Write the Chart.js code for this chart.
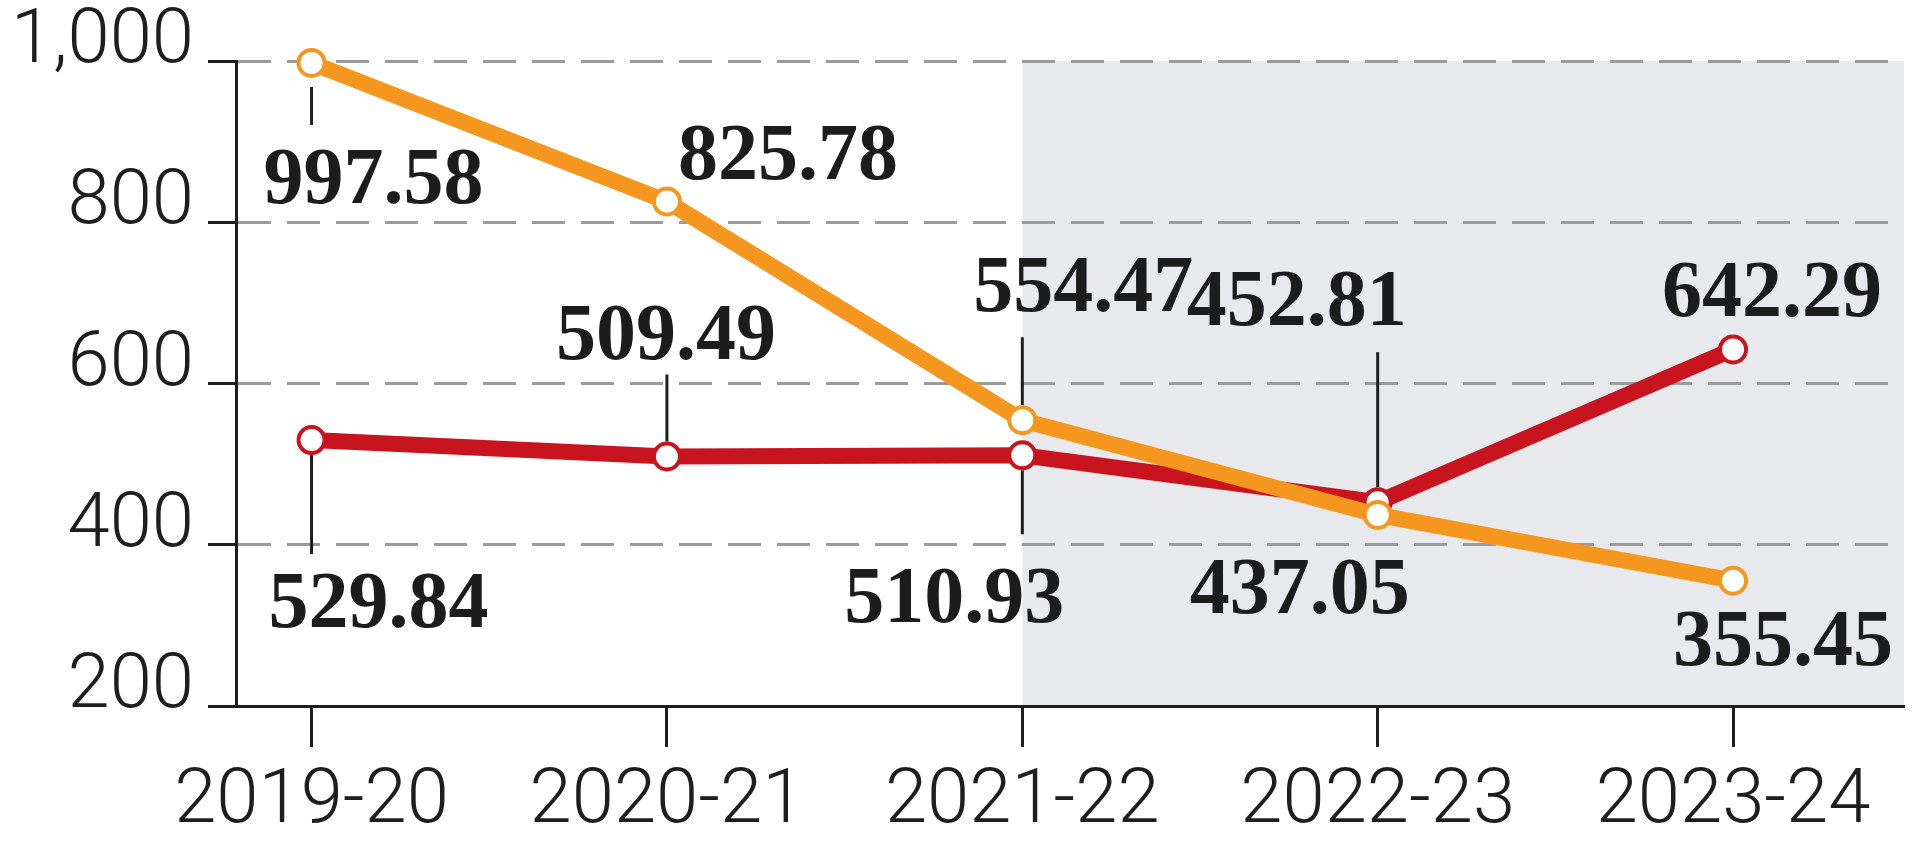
<!DOCTYPE html>
<html>
<head>
<meta charset="utf-8">
<script src="https://cdn.jsdelivr.net/npm/chart.js@4/dist/chart.umd.min.js"></script>
<style>
  html, body { margin: 0; padding: 0; background: #ffffff; }
  #wrap { width: 1921px; height: 843px; position: relative; }
</style>
</head>
<body>
<div id="wrap"><canvas id="c" width="1921" height="843"></canvas></div>
<script>
// ---- Data ----
const categories = ['2019-20', '2020-21', '2021-22', '2022-23', '2023-24'];
const orangeValues = [997.58, 825.78, 554.47, 437.05, 355.45];
const redValues = [529.84, 509.49, 510.93, 452.81, 642.29];
const yTickValues = [200, 400, 600, 800, 1000];
const shadeFromCategory = '2021-22';

// ---- Label placement (pixel offsets from each point; alphabetic baseline) ----
const orangePlacement = [
  { dx: 62, dy: 140, lead: [24, 62] },
  { dx: 121, dy: -22 },
  { dx: 61, dy: -109, lead: [-83, -15] },
  { dx: -78, dy: 98 },
  { dx: 50, dy: 84 }
];
const redPlacement = [
  { dx: 67, dy: 187, lead: [15, 114] },
  { dx: -1, dy: -97, lead: [-82, -15] },
  { dx: -68, dy: 167, lead: [15, 79] },
  { dx: -81, dy: -177, lead: [-150, -15] },
  { dx: 39, dy: -33 }
];

const ORANGE = '#f5971f';
const RED = '#c8141e';

const toPoints = vals => vals.map((v, i) => ({ x: i, y: v }));

const shadePlugin = {
  id: 'shade',
  beforeDraw(chart) {
    const { ctx, chartArea, scales: { x, y } } = chart;
    const x0 = x.getPixelForValue(categories.indexOf(shadeFromCategory));
    const y0 = y.getPixelForValue(y.max);
    const y1 = y.getPixelForValue(y.min);
    ctx.save();
    ctx.fillStyle = '#e8e9ec';
    ctx.fillRect(x0, y0, chartArea.right - x0, y1 - y0);
    ctx.restore();
  }
};

const placements = [orangePlacement, redPlacement];

const leaderPlugin = {
  id: 'leaders',
  beforeDatasetsDraw(chart) {
    const ctx = chart.ctx;
    ctx.save();
    ctx.strokeStyle = '#1e1e1e';
    ctx.lineWidth = 3;
    chart.data.datasets.forEach((ds, di) => {
      const meta = chart.getDatasetMeta(di);
      meta.data.forEach((pt, i) => {
        const p = placements[di][i];
        if (!p.lead) return;
        ctx.beginPath();
        ctx.moveTo(pt.x, pt.y + p.lead[0]);
        ctx.lineTo(pt.x, pt.y + p.lead[1]);
        ctx.stroke();
      });
    });
    ctx.restore();
  },
  afterDatasetsDraw(chart) {
    const ctx = chart.ctx;
    ctx.save();
    ctx.fillStyle = '#1c1c1c';
    ctx.font = 'bold 80px "Liberation Serif", "Times New Roman", serif';
    ctx.textAlign = 'center';
    ctx.textBaseline = 'alphabetic';
    chart.data.datasets.forEach((ds, di) => {
      const meta = chart.getDatasetMeta(di);
      meta.data.forEach((pt, i) => {
        const p = placements[di][i];
        const v = ds.data[i].y;
        ctx.fillText(v.toFixed(2), pt.x + p.dx, pt.y + p.dy);
      });
    });
    ctx.restore();
  }
};

const zeroPad = s => { s.paddingLeft = 0; s.paddingRight = 0; s.paddingTop = 0; s.paddingBottom = 0; };

new Chart(document.getElementById('c'), {
  type: 'line',
  data: {
    datasets: [
      {
        label: 'orange',
        data: toPoints(orangeValues),
        borderColor: ORANGE,
        borderWidth: 16,
        pointRadius: 13,
        pointBorderWidth: 4,
        pointBackgroundColor: '#ffffff',
        pointBorderColor: ORANGE,
        tension: 0,
        clip: false
      },
      {
        label: 'red',
        data: toPoints(redValues),
        borderColor: RED,
        borderWidth: 16,
        pointRadius: 13,
        pointBorderWidth: 4,
        pointBackgroundColor: '#ffffff',
        pointBorderColor: RED,
        tension: 0,
        clip: false
      }
    ]
  },
  options: {
    responsive: false,
    animation: false,
    devicePixelRatio: 1,
    layout: { padding: { top: 61, right: -8, left: 0, bottom: 0 } },
    plugins: { legend: { display: false }, tooltip: { enabled: false } },
    scales: {
      x: {
        type: 'linear',
        min: -0.2126,
        max: 4.481,
        afterBuildTicks: s => { s.ticks = categories.map((_, i) => ({ value: i })); },
        afterFit: s => { s.height = 137; zeroPad(s); },
        grid: {
          drawOnChartArea: false,
          drawTicks: true,
          tickLength: 41,
          tickColor: '#1e1e1e',
          tickWidth: 3
        },
        border: { display: true, color: '#1e1e1e', width: 3 },
        ticks: {
          callback: v => categories[v],
          font: { family: 'Roboto', weight: 300, size: 76 },
          color: '#1e1e1e',
          padding: 10,
          maxRotation: 0,
          autoSkip: false
        }
      },
      y: {
        min: 200,
        max: 1000,
        afterBuildTicks: s => { s.ticks = yTickValues.map(v => ({ value: v })); },
        afterFit: s => { s.width = 236; zeroPad(s); },
        grid: {
          color: '#9b9b9b',
          lineWidth: 3,
          drawTicks: true,
          tickLength: 28,
          tickColor: '#1e1e1e',
          tickWidth: 3
        },
        border: { display: true, color: '#1e1e1e', width: 3, dash: [33, 16] },
        ticks: {
          callback: v => v.toLocaleString('en-US'),
          font: { family: 'Roboto', weight: 300, size: 76 },
          color: '#1e1e1e',
          padding: 14,
          labelOffset: -18
        }
      }
    }
  },
  plugins: [shadePlugin, leaderPlugin]
});
</script>
</body>
</html>
